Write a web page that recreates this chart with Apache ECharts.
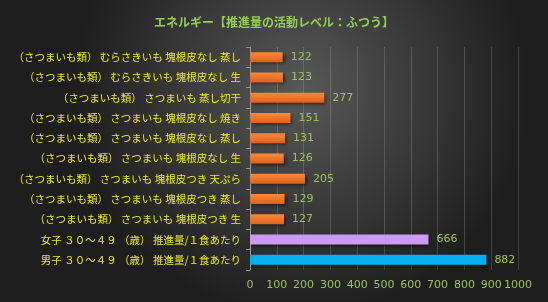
<!DOCTYPE html>
<html><head><meta charset="utf-8">
<script src="https://cdn.jsdelivr.net/npm/echarts@6/dist/echarts.min.js"></script>
<style>html,body{margin:0;padding:0;background:#2a2a2a}#c{width:548px;height:302px}</style>
</head><body><div id="c"></div>
<script>
const titleText = 'エネルギー【推進量の活動レベル：ふつう】';
const categories = [
  '（さつまいも類） むらさきいも 塊根皮なし 蒸し',
  '（さつまいも類） むらさきいも 塊根皮なし 生',
  '（さつまいも類） さつまいも 蒸し切干',
  '（さつまいも類） さつまいも 塊根皮なし 焼き',
  '（さつまいも類） さつまいも 塊根皮なし 蒸し',
  '（さつまいも類） さつまいも 塊根皮なし 生',
  '（さつまいも類） さつまいも 塊根皮つき 天ぷら',
  '（さつまいも類） さつまいも 塊根皮つき 蒸し',
  '（さつまいも類） さつまいも 塊根皮つき 生',
  '女子 ３０～４９ （歳） 推進量/１食あたり',
  '男子 ３０～４９ （歳） 推進量/１食あたり'
];
const values = [122, 123, 277, 151, 131, 126, 205, 129, 127, 666, 882];
const xTicks = {min: 0, max: 1000, interval: 100};

const orange = {type:'linear',x:0,y:0,x2:0,y2:1,colorStops:[{offset:0,color:'#f98a3c'},{offset:1,color:'#e0601c'}]};
function barColor(name){
  if (name.indexOf('女子') === 0) return '#cc9af5';
  if (name.indexOf('男子') === 0) return '#00b0f0';
  return orange;
}
const chart = echarts.init(document.getElementById('c'));
chart.setOption({
  backgroundColor: {type:'radial',x:0.55,y:0.3,r:0.75,colorStops:[{offset:0,color:'#585858'},{offset:1,color:'#1e1e1e'}]},
  textStyle: {fontFamily: '"Noto Sans CJK JP", sans-serif'},
  title: {
    text: titleText, left: 'center', top: 11,
    textStyle: {color:'#92d050', fontSize: 12, fontWeight: 'bold', fontFamily: '"Noto Sans CJK JP", sans-serif'}
  },
  grid: {left: 250, right: 30, top: 47, bottom: 32},
  xAxis: {
    type: 'value', min: xTicks.min, max: xTicks.max, interval: xTicks.interval,
    axisLine: {show: false}, axisTick: {show: false},
    axisLabel: {color:'#9cc45c', fontSize: 11, margin: 10, fontFamily: '"DejaVu Sans", sans-serif', formatter: v => String(v)},
    splitLine: {show: true, lineStyle: {color: 'rgba(200,200,200,0.22)', width: 1}}
  },
  yAxis: {
    type: 'category', data: categories, inverse: true,
    axisLine: {show: true, lineStyle: {color: '#9a9a9a'}},
    axisTick: {show: true, length: 4, lineStyle: {color: '#9a9a9a'}},
    axisLabel: {color:'#eeee1a', fontSize: 10.5, margin: 9, fontFamily: '"Noto Sans CJK JP", sans-serif'}
  },
  series: [{
    type: 'bar', data: values, barWidth: 10,
    itemStyle: {
      color: p => barColor(p.name),
      shadowColor: 'rgba(0,0,0,0.5)', shadowBlur: 3, shadowOffsetX: 2, shadowOffsetY: 2
    },
    label: {show: true, position: 'right', distance: 8, color: '#9cc45c', fontSize: 11, fontFamily: '"DejaVu Sans", sans-serif'}
  }],
  animation: false
});
</script></body></html>
